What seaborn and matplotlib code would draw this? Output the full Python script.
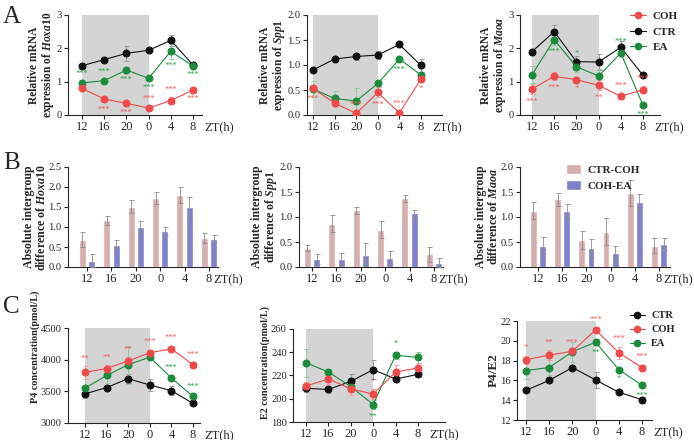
import numpy as np
import pandas as pd
import matplotlib
matplotlib.use('Agg')
import matplotlib.pyplot as plt
from matplotlib.lines import Line2D
from matplotlib.patches import Patch
import seaborn as sns

# ---------------- data ----------------
zt = ['12', '16', '20', '0', '4', '8']

# A - relative mRNA expression (mean, error)
hoxa10_ctr = [1.48, 1.66, 1.85, 1.94, 2.24, 1.50]
hoxa10_ctr_err = [0.05, 0.07, 0.22, 0.05, 0.17, 0.07]
hoxa10_coh = [0.80, 0.48, 0.35, 0.21, 0.43, 0.75]
hoxa10_coh_err = [0.07, 0.10, 0.05, 0.05, 0.10, 0.05]
hoxa10_ea = [0.96, 1.03, 1.35, 1.10, 1.91, 1.47]
hoxa10_ea_err = [0.05, 0.05, 0.08, 0.05, 0.22, 0.05]

spp1_ctr = [0.90, 1.12, 1.17, 1.20, 1.41, 0.99]
spp1_ctr_err = [0.03, 0.05, 0.07, 0.08, 0.06, 0.13]
spp1_coh = [0.53, 0.24, 0.03, 0.45, 0.04, 0.72]
spp1_coh_err = [0.05, 0.08, 0.03, 0.10, 0.03, 0.05]
spp1_ea = [0.52, 0.33, 0.28, 0.63, 1.12, 0.80]
spp1_ea_err = [0.16, 0.14, 0.25, 0.07, 0.06, 0.05]

maoa_ctr = [1.90, 2.50, 1.60, 1.59, 2.03, 1.19]
maoa_ctr_err = [0.05, 0.20, 0.18, 0.24, 0.20, 0.05]
maoa_coh = [0.78, 1.16, 1.06, 0.89, 0.56, 0.76]
maoa_coh_err = [0.15, 0.12, 0.05, 0.15, 0.08, 0.10]
maoa_ea = [1.21, 2.26, 1.45, 1.17, 1.86, 0.29]
maoa_ea_err = [0.25, 0.15, 0.15, 0.20, 0.10, 0.05]

# B - absolute intergroup difference
hoxa10_ctr_coh = [0.68, 1.17, 1.51, 1.72, 1.81, 0.73]
hoxa10_ctr_coh_err = [0.19, 0.11, 0.17, 0.15, 0.20, 0.12]
hoxa10_coh_ea = [0.16, 0.56, 1.00, 0.89, 1.49, 0.71]
hoxa10_coh_ea_err = [0.17, 0.12, 0.16, 0.10, 0.27, 0.09]

spp1_ctr_coh = [0.38, 0.87, 1.14, 0.75, 1.37, 0.26]
spp1_ctr_coh_err = [0.06, 0.17, 0.07, 0.17, 0.07, 0.15]
spp1_coh_ea = [0.16, 0.16, 0.25, 0.19, 1.07, 0.09]
spp1_coh_ea_err = [0.10, 0.12, 0.23, 0.13, 0.07, 0.09]

maoa_ctr_coh = [1.13, 1.35, 0.55, 0.71, 1.48, 0.43]
maoa_ctr_coh_err = [0.17, 0.12, 0.18, 0.27, 0.25, 0.15]
maoa_coh_ea = [0.43, 1.11, 0.39, 0.28, 1.31, 0.46]
maoa_coh_ea_err = [0.17, 0.15, 0.18, 0.15, 0.15, 0.12]

# C - hormones
p4_ctr = [3460, 3560, 3700, 3600, 3510, 3310]
p4_ctr_err = [30, 30, 70, 100, 70, 20]
p4_coh = [3800, 3860, 3980, 4110, 4170, 3920]
p4_coh_err = [100, 50, 60, 50, 50, 30]
p4_ea = [3550, 3750, 3920, 4040, 3710, 3420]
p4_ea_err = [150, 120, 300, 40, 50, 40]

e2_ctr = [209, 208, 215, 225, 217, 221]
e2_ctr_err = [3, 3, 6, 8, 3, 2]
e2_coh = [211, 217, 208.5, 204, 223, 226.5]
e2_coh_err = [3, 4, 5, 4, 6, 4]
e2_ea = [231, 223, 210.5, 195, 237.5, 235.5]
e2_ea_err = [12, 3, 3, 4, 3, 5]

ratio_ctr = [15.0, 16.0, 17.3, 16.05, 14.8, 14.05]
ratio_ctr_err = [0.1, 0.1, 0.1, 0.8, 0.1, 0.3]
ratio_coh = [18.1, 18.55, 18.95, 21.1, 18.8, 17.3]
ratio_coh_err = [0.4, 0.5, 0.1, 0.3, 0.6, 0.3]
ratio_ea = [17.0, 17.3, 18.9, 19.85, 17.1, 15.5]
ratio_ea_err = [0.9, 0.8, 1.0, 0.3, 0.2, 0.3]

# significance marks: (text, 'a' above / 'b' below)
hoxa10_coh_sig = [('', ''), ('***', 'b'), ('***', 'b'), ('***', 'a'), ('***', 'a'), ('***', 'b')]
hoxa10_ea_sig = [('***', 'a'), ('***', 'a'), ('***', 'b'), ('***', 'b'), ('***', 'b'), ('***', 'b')]
spp1_coh_sig = [('***', 'b'), ('', ''), ('***', 'a'), ('***', 'b'), ('***', 'a'), ('*', 'b')]
spp1_ea_sig = [('', ''), ('', ''), ('', ''), ('', ''), ('***', 'b'), ('', '')]
maoa_coh_sig = [('***', 'b'), ('***', 'b'), ('*', 'b'), ('**', 'b'), ('***', 'a'), ('***', 'a')]
maoa_ea_sig = [('', ''), ('***', 'b'), ('*', 'a'), ('', ''), ('***', 'a'), ('***', 'b')]
p4_coh_sig = [('**', 'a'), ('**', 'a'), ('**', 'a'), ('***', 'a'), ('***', 'a'), ('***', 'a')]
p4_ea_sig = [('', ''), ('', ''), ('', ''), ('', ''), ('***', 'a'), ('***', 'a')]
e2_coh_sig = [('', ''), ('', ''), ('', ''), ('*', 'a'), ('', ''), ('', '')]
e2_ea_sig = [('', ''), ('', ''), ('', ''), ('**', 'b'), ('*', 'a'), ('', '')]
ratio_coh_sig = [('*', 'a'), ('**', 'a'), ('***', 'a'), ('***', 'a'), ('***', 'a'), ('***', 'a')]
ratio_ea_sig = [('', ''), ('', ''), ('', ''), ('**', 'b'), ('*', 'b'), ('***', 'b')]

# ---------------- style ----------------
sns.set_style('ticks')
plt.rcParams['font.family'] = ['Liberation Serif', 'DejaVu Serif']
plt.rcParams['mathtext.fontset'] = 'custom'
plt.rcParams['mathtext.rm'] = 'Liberation Serif:bold'
plt.rcParams['mathtext.it'] = 'Liberation Serif:italic:bold'
plt.rcParams['axes.linewidth'] = 0.8

RED, GREEN, BLACK = '#EE4A4C', '#1B8A3C', '#111111'
RED_L, GREEN_L, BLACK_L = '#F4A0A0', '#93C9A0', '#9A9A9A'
PINK, BLUE = '#D7AEAE', '#8081CB'
SHADE = '#D4D4D4'

W, H = 694, 440
fig = plt.figure(figsize=(W / 100, H / 100), dpi=100)


def make_ax(left, top, right, bottom):
    return fig.add_axes([left / W, 1 - bottom / H, (right - left) / W, (bottom - top) / H])


def set_xrange(ax, spine, p0, p5, right):
    step = (p5 - p0) / 5
    ax.set_xlim((spine - p0) / step, (right - p0) / step)


def style_ax(ax, ylim, yticks, ylabel, ysize, yfmt, lab_y=0.5, zt_off=8):
    ax.set_ylim(*ylim)
    ax.set_yticks(yticks)
    ax.set_yticklabels([yfmt.format(t) for t in yticks], fontsize=7.6)
    ax.set_xticks(range(len(zt)))
    ax.set_xticklabels(zt, fontsize=9)
    ax.set_xlabel('')
    ax.set_ylabel(ylabel, fontsize=ysize, fontweight='bold', linespacing=1.0, labelpad=0.5)
    ax.yaxis.label.set_y(lab_y)
    sns.despine(ax=ax)
    ax.tick_params(direction='out', length=3, width=0.8, pad=1.5)
    ax.annotate('ZT(h)', xy=(5, 0), xycoords=('data', 'axes fraction'),
                xytext=(zt_off, -4.5), textcoords='offset points', ha='left', va='top', fontsize=9)


def line_panel(ax, ctr, coh, ea, errs, sigs):
    x = np.arange(len(zt))
    ax.axvspan(0, 3, color=SHADE, lw=0, zorder=0)
    groups = [(ctr, errs[0], BLACK, BLACK_L), (ea, errs[2], GREEN, GREEN_L), (coh, errs[1], RED, RED_L)]
    for vals, err, c, cl in groups:
        ax.errorbar(x, vals, yerr=err, fmt='none', ecolor=cl, elinewidth=0.7, capsize=1.8, capthick=0.7, zorder=2)
        sns.lineplot(x=x, y=vals, ax=ax, color=c, marker='o', markersize=5, markeredgecolor=c,
                     linewidth=0.8, zorder=3)
    for vals, err, sig, c in [(coh, errs[1], sigs[0], '#F15A5A'), (ea, errs[2], sigs[1], '#27A048')]:
        for i, (s, where) in enumerate(sig):
            if not s:
                continue
            if where == 'a':
                ax.annotate(s, xy=(i, vals[i] + err[i]), xytext=(0, 2.5), textcoords='offset points',
                            ha='center', va='bottom', fontsize=6, color=c)
            else:
                ax.annotate(s, xy=(i, vals[i] - err[i]), xytext=(0, -2.5), textcoords='offset points',
                            ha='center', va='top', fontsize=6, color=c)


def bar_panel(ax, a, a_err, b, b_err):
    df = pd.DataFrame({'ZT': zt * 2,
                       'group': ['CTR-COH'] * len(zt) + ['COH-EA'] * len(zt),
                       'val': a + b})
    sns.barplot(data=df, x='ZT', y='val', hue='group', order=zt, hue_order=['CTR-COH', 'COH-EA'],
                palette=[PINK, BLUE], width=0.76, gap=0.24, errorbar=None, legend=False,
                saturation=1, ax=ax)
    for cont, err in zip(ax.containers, [a_err, b_err]):
        for bar, e in zip(cont, err):
            ax.errorbar(bar.get_x() + bar.get_width() / 2, bar.get_height(), yerr=e, fmt='none',
                        ecolor='#8C8C8C', elinewidth=0.6, capsize=1.8, capthick=0.6, zorder=3)


# ---------- row A ----------
axA1 = make_ax(68, 15, 202, 115)
line_panel(axA1, hoxa10_ctr, hoxa10_coh, hoxa10_ea,
           [hoxa10_ctr_err, hoxa10_coh_err, hoxa10_ea_err], [hoxa10_coh_sig, hoxa10_ea_sig])
style_ax(axA1, (0, 3), [0, 1, 2, 3], 'Relative mRNA\nexpression of $\\mathit{Hoxa10}$', 8.3, '{:g}')
set_xrange(axA1, 68, 82, 193, 202)

axA2 = make_ax(307, 15, 442, 115)
line_panel(axA2, spp1_ctr, spp1_coh, spp1_ea,
           [spp1_ctr_err, spp1_coh_err, spp1_ea_err], [spp1_coh_sig, spp1_ea_sig])
style_ax(axA2, (0, 2), [0, 0.5, 1, 1.5, 2], 'Relative mRNA\nexpression of $\\mathit{Spp1}$', 8.3, '{:.1f}')
set_xrange(axA2, 307, 313, 421, 442)

axA3 = make_ax(520, 15, 660, 115)
line_panel(axA3, maoa_ctr, maoa_coh, maoa_ea,
           [maoa_ctr_err, maoa_coh_err, maoa_ea_err], [maoa_coh_sig, maoa_ea_sig])
style_ax(axA3, (0, 3), [0, 1, 2, 3], 'Relative mRNA\nexpression of $\\mathit{Maoa}$', 8.3, '{:g}')
set_xrange(axA3, 520, 532, 643, 660)

handles = [Line2D([], [], color=c, marker='o', markersize=4.5, lw=0.8) for c in [RED, BLACK, GREEN]]
fig.legend(handles, ['COH', 'CTR', 'EA'], loc='upper left', bbox_to_anchor=(626 / W, 1 - 7 / H),
           frameon=False, prop={'weight': 'bold', 'size': 8}, handlelength=1.4, handletextpad=0.6,
           labelspacing=0.5, borderaxespad=0)

# ---------- row B ----------
axB1 = make_ax(68, 167, 218, 267)
bar_panel(axB1, hoxa10_ctr_coh, hoxa10_ctr_coh_err, hoxa10_coh_ea, hoxa10_coh_ea_err)
style_ax(axB1, (0, 2.5), [0, 0.5, 1, 1.5, 2, 2.5], 'Absolute intergroup\ndifference of $\\mathit{Hoxa10}$',
         8.6, '{:.1f}', zt_off=3)
set_xrange(axB1, 68, 87, 209, 218)

axB2 = make_ax(299, 167, 443, 267)
bar_panel(axB2, spp1_ctr_coh, spp1_ctr_coh_err, spp1_coh_ea, spp1_coh_ea_err)
style_ax(axB2, (0, 2), [0, 0.5, 1, 1.5, 2], 'Absolute intergroup\ndifference of $\\mathit{Spp1}$',
         8.6, '{:.1f}', zt_off=3)
set_xrange(axB2, 299, 312, 434, 443)

axB3 = make_ax(520, 167, 670, 267)
bar_panel(axB3, maoa_ctr_coh, maoa_ctr_coh_err, maoa_coh_ea, maoa_coh_ea_err)
style_ax(axB3, (0, 2), [0, 0.5, 1, 1.5, 2], 'Absolute intergroup\ndifference of $\\mathit{Maoa}$',
         8.6, '{:.1f}', zt_off=3)
set_xrange(axB3, 520, 538, 659, 670)

bhandles = [Patch(facecolor=PINK), Patch(facecolor=BLUE)]
fig.legend(bhandles, ['CTR-COH', 'COH-EA'], loc='upper left', bbox_to_anchor=(562 / W, 1 - 160 / H),
           frameon=False, prop={'weight': 'bold', 'size': 8}, handlelength=1.3, handleheight=0.9,
           handletextpad=0.6, labelspacing=0.5, borderaxespad=0)

# ---------- row C ----------
axC1 = make_ax(68, 328, 200, 423)
line_panel(axC1, p4_ctr, p4_coh, p4_ea, [p4_ctr_err, p4_coh_err, p4_ea_err], [p4_coh_sig, p4_ea_sig])
style_ax(axC1, (3000, 4500), [3000, 3500, 4000, 4500], 'P4 concentration(pmol/L)', 7.3, '{:g}', 0.8)
set_xrange(axC1, 68, 85, 193, 200)

axC2 = make_ax(293, 329, 445, 422)
line_panel(axC2, e2_ctr, e2_coh, e2_ea, [e2_ctr_err, e2_coh_err, e2_ea_err], [e2_coh_sig, e2_ea_sig])
style_ax(axC2, (180, 260), [180, 200, 220, 240, 260], 'E2 concentration(pmol/L)', 7.3, '{:g}', 0.645)
set_xrange(axC2, 293, 306, 418, 445)

axC3 = make_ax(517, 321, 652, 420)
line_panel(axC3, ratio_ctr, ratio_coh, ratio_ea, [ratio_ctr_err, ratio_coh_err, ratio_ea_err],
           [ratio_coh_sig, ratio_ea_sig])
style_ax(axC3, (12, 22), [12, 14, 16, 18, 20, 22], 'P4/E2', 9.5, '{:g}')
set_xrange(axC3, 517, 526, 642, 652)

chandles = [Line2D([], [], color=c, marker='o', markersize=4.5, lw=0.8) for c in [BLACK, RED, GREEN]]
fig.legend(chandles, ['CTR', 'COH', 'EA'], loc='upper left', bbox_to_anchor=(626 / W, 1 - 307 / H),
           frameon=False, prop={'weight': 'bold', 'size': 7.5}, handlelength=1.4, handletextpad=0.6,
           labelspacing=0.45, borderaxespad=0)

# panel letters
for letter, ypix in [('A', 17), ('B', 163), ('C', 307)]:
    fig.text(3 / W, 1 - ypix / H, letter, fontsize=18, va='center', ha='left')

fig.savefig('out.png', dpi=100)
